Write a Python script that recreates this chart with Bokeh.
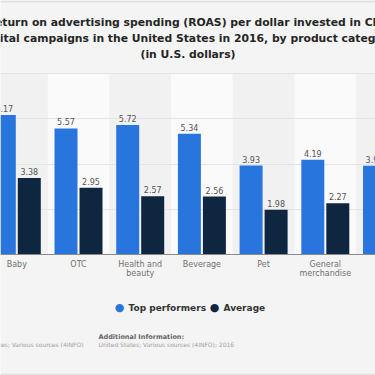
from bokeh.plotting import figure
from bokeh.models import Range1d, FixedTicker, Label, ColumnDataSource, Span
from bokeh.transform import dodge
from bokeh.core.properties import value
from bokeh.embed import file_html
from bokeh.resources import INLINE

# ---- data ----
categories = ["Baby", "OTC", "Health and beauty", "Beverage", "Pet", "General merchandise", "Food"]
tick_labels = ["Baby", "OTC", "Health and\nbeauty", "Beverage", "Pet", "General\nmerchandise", "Food"]
top_performers = [6.17, 5.57, 5.72, 5.34, 3.93, 4.19, 3.92]
average = [3.38, 2.95, 2.57, 2.56, 1.98, 2.27, float("nan")]
y_grid_ticks = [2, 4, 6, 8]
series_names = ["Top performers", "Average"]
series_colors = ["#2876dd", "#0f2640"]

title_lines = [
    "Return on advertising spending (ROAS) per dollar invested in CPG",
    "digital campaigns in the United States in 2016, by product category",
    "(in U.S. dollars)",
]

# ---- layout (pixel geometry of the cropped view) ----
W = H = 375
PLOT_TOP, PLOT_BOTTOM = 73, 254
PX_PER_CAT = 61.7
FIRST_CENTER = 16.3
Y_MAX = 8
px_per_unit = (PLOT_BOTTOM - PLOT_TOP) / Y_MAX
x_start = -FIRST_CENTER / PX_PER_CAT
x_end = x_start + W / PX_PER_CAT


def dx(px):
    return x_start + px / PX_PER_CAT


def dy(py):
    return (PLOT_BOTTOM - py) / px_per_unit


FONT = value("DejaVu Sans")

p = figure(width=W, height=H, x_range=Range1d(x_start, x_end), y_range=Range1d(dy(H), dy(0)),
           output_backend="svg", toolbar_location=None,
           x_axis_location=None, y_axis_location=None,
           min_border=0, background_fill_color="#f4f4f4", border_fill_color="#f4f4f4",
           outline_line_color=None)
p.title.visible = False

idx = list(range(len(categories)))
fmt = lambda v: "" if v != v else f"{v:.2f}"
src = ColumnDataSource(dict(
    x=idx, top=top_performers, avg=average, lbl=tick_labels,
    top_lbl=[fmt(v) for v in top_performers],
    avg_lbl=[fmt(v) for v in average],
))

# alternating category bands inside the plot area
p.vbar(x=[i for i in idx if i % 2 == 1], width=1, bottom=0, top=Y_MAX, fill_color="#fafafa",
       line_color=None, level="image")
p.vbar(x=[i for i in idx if i % 2 == 0], width=1, bottom=0, top=Y_MAX, fill_color="#f1f1f1",
       line_color=None, level="image")

bar_w = 23 / PX_PER_CAT
off = 12.5 / PX_PER_CAT

p.vbar(x=dodge("x", -off, range=p.x_range), top="top", width=bar_w, source=src,
       fill_color=series_colors[0], line_color=None)
p.vbar(x=dodge("x", off, range=p.x_range), top="avg", width=bar_w, source=src,
       fill_color=series_colors[1], line_color=None)

for key, sgn in (("top", -1), ("avg", 1)):
    p.text(x=dodge("x", sgn * off, range=p.x_range), y=key, text=key + "_lbl", source=src,
           text_align="center", text_baseline="bottom", y_offset=-3,
           text_font_size="8px", text_color="#555555", text_font=FONT)

# category labels under the baseline
p.text(x="x", y=0, text="lbl", source=src, text_align="center", text_baseline="top",
       y_offset=5, text_font_size="8px", text_color="#707070", text_font=FONT,
       text_line_height=1.0)

# grids
p.xgrid.visible = False
p.ygrid.ticker = FixedTicker(ticks=y_grid_ticks)
p.ygrid.grid_line_color = "#e4e4e4"

# baseline
p.add_layout(Span(location=0, dimension="width", line_color="#8a8a8a", line_width=1))
# top and bottom edge lines of the card
p.add_layout(Span(location=dy(1), dimension="width", line_color="#e0e0e0", line_width=2))
p.add_layout(Span(location=dy(374), dimension="width", line_color="#e6e6e6", line_width=2))

# title
for i, line in enumerate(title_lines):
    p.add_layout(Label(x=dx(187.5), y=dy(21.5 + 16 * i), text=line, text_align="center",
                       text_baseline="alphabetic", text_font_size="10.8px", text_font_style="bold",
                       text_color="#262626", text_font="DejaVu Sans"))

# legend
legend_pos = [(119, 128), (214, 223)]
for (cx, tx), name, col in zip(legend_pos, series_names, series_colors):
    p.add_layout(Label(x=dx(cx), y=dy(307), text="\u25cf", text_align="center", text_baseline="middle",
                       text_font_size="11px", text_color=col, text_font="DejaVu Sans"))
    p.add_layout(Label(x=dx(tx), y=dy(307), text=name, text_align="left", text_baseline="middle",
                       text_font_size="9px", text_font_style="bold", text_color="#333333",
                       text_font="DejaVu Sans"))

# footer
p.add_layout(Label(x=dx(98), y=dy(336), text="Additional Information:", text_align="left",
                   text_baseline="middle", text_font_size="6.5px", text_font_style="bold",
                   text_color="#666666", text_font="DejaVu Sans"))
p.add_layout(Label(x=dx(98), y=dy(343.5), text="United States; Various sources (4INFO); 2016",
                   text_align="left", text_baseline="middle", text_font_size="6px",
                   text_color="#a0a0a0", text_font="DejaVu Sans"))
p.add_layout(Label(x=dx(83), y=dy(343.5), text="United States; Various sources (4INFO)",
                   text_align="right", text_baseline="middle", text_font_size="6px",
                   text_color="#a0a0a0", text_font="DejaVu Sans"))

open("out.html", "w").write(file_html(p, INLINE))
